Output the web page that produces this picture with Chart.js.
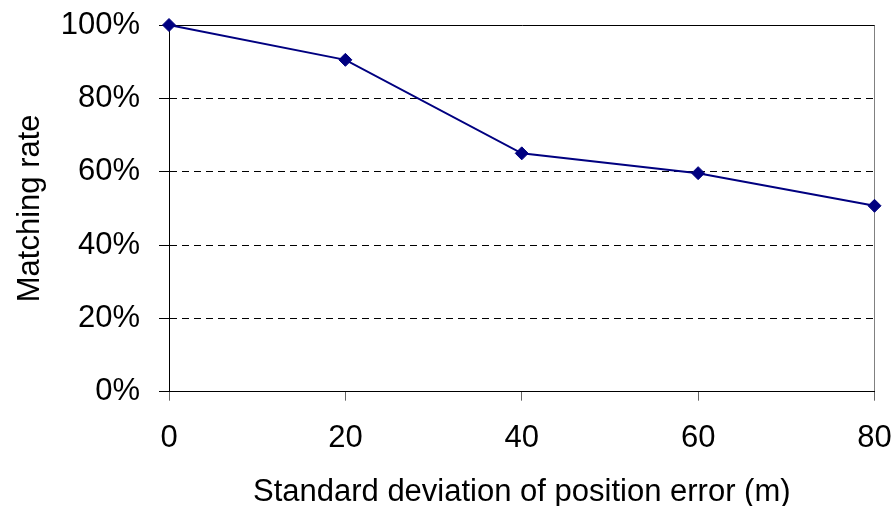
<!DOCTYPE html>
<html>
<head>
<meta charset="utf-8">
<script src="https://cdn.jsdelivr.net/npm/chart.js@4"></script>
<style>
  html, body { margin: 0; padding: 0; background: #fff; }
  #wrap { width: 895px; height: 506px; position: relative; }
</style>
</head>
<body>
<div id="wrap"><canvas id="c"></canvas></div>
<script>
const xValues = [0, 20, 40, 60, 80];
const matchingRate = [1.00, 0.905, 0.65, 0.596, 0.507];
const xTicks = [0, 20, 40, 60, 80];
const yTicks = [0, 0.2, 0.4, 0.6, 0.8, 1.0];
const xTitle = 'Standard deviation of position error (m)';
const yTitle = 'Matching rate';

const FONT = 'Liberation Sans, Arial, sans-serif';

new Chart(document.getElementById('c'), {
  type: 'line',
  data: {
    datasets: [{
      data: xValues.map((x, i) => ({ x: x, y: matchingRate[i] })),
      borderColor: '#000080',
      backgroundColor: '#000080',
      borderWidth: 2,
      pointStyle: 'rectRot',
      pointRadius: 6.5,
      pointHoverRadius: 6.5,
      pointBorderWidth: 1,
      pointBackgroundColor: '#000080',
      pointBorderColor: '#000080',
      tension: 0,
      clip: false
    }]
  },
  options: {
    responsive: true,
    maintainAspectRatio: false,
    animation: false,
    devicePixelRatio: 1,
    layout: { padding: { left: 0, right: 20.5, top: 25, bottom: 0 } },
    plugins: { legend: { display: false }, tooltip: { enabled: false } },
    scales: {
      x: {
        type: 'linear',
        min: 0, max: 80,
        afterBuildTicks: (s) => { s.ticks = xTicks.map(v => ({ value: v })); },
        afterFit: (s) => { s.height = 114.3; s.paddingLeft = 0; s.paddingRight = 0; },
        border: { display: true, color: '#000', width: 1 },
        grid: {
          drawOnChartArea: true,
          color: (ctx) => (ctx.tick && ctx.tick.value === 80) ? '#808080' : 'rgba(0,0,0,0)',
          lineWidth: 1,
          drawTicks: true,
          tickLength: 9,
          tickColor: '#666',
          tickWidth: 1
        },
        ticks: {
          color: '#000',
          padding: 19,
          maxRotation: 0,
          font: { family: FONT, size: 31 },
          callback: (v) => String(v)
        },
        title: {
          display: true,
          text: xTitle,
          color: '#000',
          font: { family: FONT, size: 31, lineHeight: 0.9 },
          padding: { top: 0, bottom: 0 }
        }
      },
      y: {
        min: 0, max: 1,
        afterBuildTicks: (s) => { s.ticks = yTicks.map(v => ({ value: v })); },
        afterFit: (s) => { s.width = 169; s.paddingTop = 0; s.paddingBottom = 0; },
        border: {
          display: true, color: '#000', width: 1,
          dash: (ctx) => (ctx.tick && (Math.abs(ctx.tick.value - 1) < 1e-9 || ctx.tick.value === 0)) ? [] : [7, 5]
        },
        grid: {
          drawOnChartArea: true,
          color: '#000',
          lineWidth: 1,
          drawTicks: true,
          tickLength: 10,
          tickColor: '#000',
          tickWidth: 1
        },
        ticks: {
          color: '#000',
          padding: 19,
          font: { family: FONT, size: 31 },
          callback: (v) => Math.round(v * 100) + '%'
        },
        title: {
          display: true,
          text: yTitle,
          color: '#000',
          font: { family: FONT, size: 31 },
          padding: { top: 12, bottom: 0 }
        }
      }
    }
  }
});
</script>
</body>
</html>
